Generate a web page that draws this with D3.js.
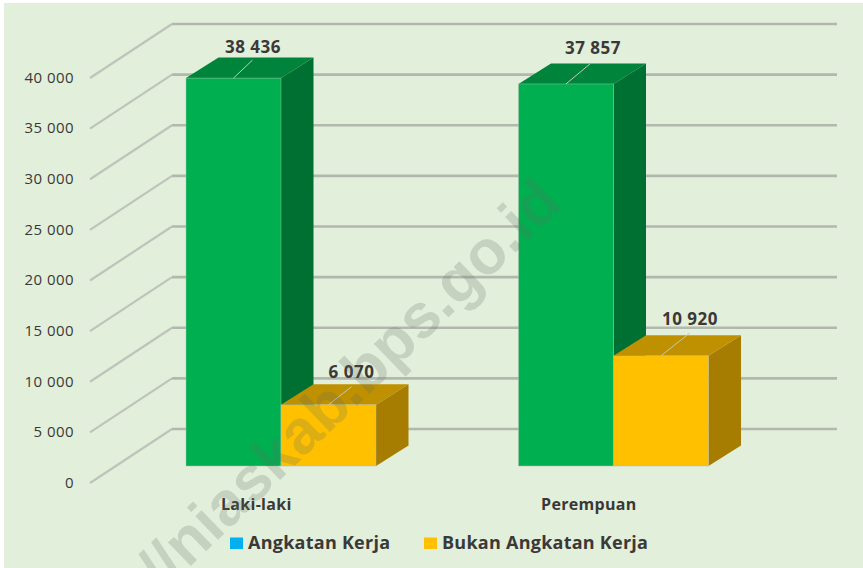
<!DOCTYPE html>
<html><head><meta charset="utf-8">
<script src="https://cdn.jsdelivr.net/npm/d3@7/dist/d3.min.js"></script>
<style>html,body{margin:0;padding:0;background:#fff;overflow:hidden}svg{display:block}</style>
</head><body><svg id="c" width="863" height="568"></svg>
<script>
const categories = ["Laki-laki", "Perempuan"];
const seriesNames = ["Angkatan Kerja", "Bukan Angkatan Kerja"];
const angkatanKerja = [38436, 37857];
const bukanAngkatanKerja = [6070, 10920];
const tickValues = [0, 5000, 10000, 15000, 20000, 25000, 30000, 35000, 40000];
const watermark = "//niaskab.bps.go.id";

const svg = d3.select("#c");
const fmt = v => d3.format(",")(v).replace(/,/g, " ");
const font = "'Open Sans', sans-serif";
const textCol = "#3b3838";

svg.append("rect").attr("x", 4).attr("y", 3).attr("width", 859).attr("height", 565).attr("fill", "#e2efda");

const yAxis = d3.scaleLinear().domain([0, 40000]).range([483, 78]);
const barH = d3.scaleLinear().domain([0, 40000]).range([0, 403.7]);
const baseY = 466, depthX = 32.5, depthY = 20.5;
const wallDX = 82, wallDY = 54, wallRight = 837;
const barW = 95;
const groupX = d3.scaleOrdinal().domain(categories).range([186, 518.5]);

const grid = svg.append("g").attr("fill", "none");
tickValues.forEach(t => {
  const y = yAxis(t);
  grid.append("path")
    .attr("d", d3.line()([[90, y], [90 + wallDX, y - wallDY]]))
    .attr("stroke", "#bfc4bb").attr("stroke-width", 2.2);
  grid.append("path")
    .attr("d", d3.line()([[90 + wallDX, y - wallDY], [wallRight, y - wallDY]]))
    .attr("stroke", "#b3b8ae").attr("stroke-width", 2.6);
  svg.append("text").attr("x", 74).attr("y", y - 0.5).attr("dy", "0.35em")
    .attr("text-anchor", "end").attr("font-family", font).attr("font-size", 15)
    .attr("letter-spacing", 0.45).attr("fill", textCol).text(fmt(t));
});

function box(g, x, v, front, top, side) {
  const h = barH(v), yt = baseY - h, r = x + barW;
  g.append("path").attr("fill", side).attr("d", d3.line()([[r, yt], [r + depthX, yt - depthY], [r + depthX, baseY - depthY], [r, baseY]]) + "Z");
  g.append("path").attr("fill", top).attr("d", d3.line()([[x, yt], [x + depthX, yt - depthY], [r + depthX, yt - depthY], [r, yt]]) + "Z");
  g.append("rect").attr("x", x).attr("y", yt).attr("width", barW).attr("height", h)
    .attr("fill", front).attr("stroke", "#b5bcae").attr("stroke-opacity", 0.55).attr("stroke-width", 0.8);
}
function label(x, v, dx, dy, tx, ty) {
  const yt = baseY - barH(v), cx = x + barW / 2;
  svg.append("line").attr("x1", cx).attr("y1", yt).attr("x2", cx + dx).attr("y2", yt + dy)
    .attr("stroke", "#c4c8c0").attr("stroke-width", 1);
  svg.append("text").attr("x", cx + tx).attr("y", yt + ty).attr("dy", "0.35em")
    .attr("text-anchor", "middle").attr("font-family", font).attr("font-weight", 700)
    .attr("font-size", 17).attr("letter-spacing", 0.5).attr("fill", textCol).text(fmt(v));
}

const bars = svg.append("g");
categories.forEach((c, i) => {
  const x = groupX(c);
  box(bars, x, angkatanKerja[i], "#00b050", "#00843c", "#006f32");
  box(bars, x + barW, bukanAngkatanKerja[i], "#ffc000", "#bf9000", "#a67d00");
});
categories.forEach((c, i) => {
  const x = groupX(c);
  label(x, angkatanKerja[i], i ? 24 : 19, i ? -20 : -18, i ? 27 : 19.5, i ? -36 : -31);
  label(x + barW, bukanAngkatanKerja[i], i ? 29 : 23, i ? -23 : -18, i ? 29 : 23, i ? -37 : -33);
  svg.append("text").attr("x", x + barW * 0.74).attr("y", 504.5).attr("dy", "0.35em")
    .attr("text-anchor", "middle").attr("font-family", font).attr("font-weight", 700)
    .attr("font-size", 16).attr("letter-spacing", 0.3).attr("fill", textCol).text(c);
});

const legend = [[230, "#00b0f0", 248], [424, "#ffc000", 442]];
seriesNames.forEach((n, i) => {
  svg.append("rect").attr("x", legend[i][0]).attr("y", 537.5).attr("width", 13).attr("height", 11.5).attr("fill", legend[i][1]);
  svg.append("text").attr("x", legend[i][2]).attr("y", 543).attr("dy", "0.35em")
    .attr("font-family", font).attr("font-weight", 700).attr("font-size", 18)
    .attr("letter-spacing", 0.25).attr("fill", textCol).text(n);
});

svg.append("text").attr("transform", "translate(163,593) rotate(-44)")
  .attr("font-family", "'Liberation Sans', Arial, sans-serif").attr("font-weight", 700)
  .attr("font-size", 62).attr("stroke", "#5f6f5f").attr("stroke-width", 0).attr("fill", "#5f6f5f").attr("fill-opacity", 0.22).text(watermark);
</script></body></html>
